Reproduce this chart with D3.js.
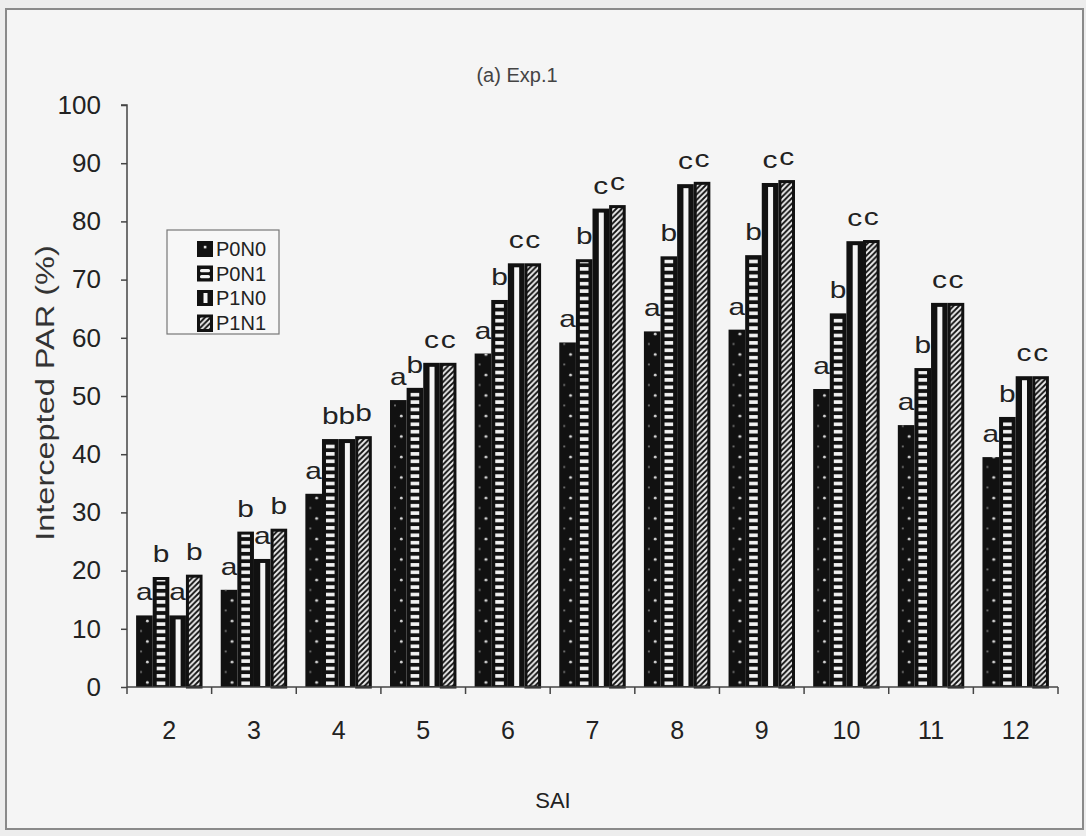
<!DOCTYPE html>
<html>
<head>
<meta charset="utf-8">
<script src="https://cdn.jsdelivr.net/npm/d3@7"></script>
<style>
  html, body { margin: 0; padding: 0; background: #ececec; }
  svg { display: block; }
  text { font-family: "Liberation Sans", Arial, sans-serif; fill: #222; }
</style>
</head>
<body>
<svg id="chart" width="1086" height="836"></svg>
<script>
// ---- data ----
const categories = ["2","3","4","5","6","7","8","9","10","11","12"];
const seriesNames = ["P0N0","P0N1","P1N0","P1N1"];
const P0N0 = [12.3, 16.7, 33.2, 49.3, 57.3, 59.2, 61.1, 61.4, 51.2, 45.0, 39.5];
const P0N1 = [18.9, 26.7, 42.6, 51.4, 66.5, 73.5, 74.0, 74.2, 64.2, 54.8, 46.4];
const P1N0 = [12.3, 22.0, 42.6, 55.7, 72.8, 82.2, 86.4, 86.6, 76.6, 66.0, 53.4];
const P1N1 = [19.3, 27.2, 43.1, 55.7, 72.8, 82.8, 86.8, 87.1, 76.8, 66.0, 53.4];
const lettersP0N0 = ["a","a","a","a","a","a","a","a","a","a","a"];
const lettersP0N1 = ["b","b","b","b","b","b","b","b","b","b","b"];
const lettersP1N0 = ["a","a","b","c","c","c","c","c","c","c","c"];
const lettersP1N1 = ["b","b","b","c","c","c","c","c","c","c","c"];
const yTicks = [0,10,20,30,40,50,60,70,80,90,100];
const titleText = "(a) Exp.1";
const xTitle = "SAI";
const yTitle = "Intercepted PAR (%)";

const seriesValues = { P0N0, P0N1, P1N0, P1N1 };
const seriesLetters = { P0N0: lettersP0N0, P0N1: lettersP0N1, P1N0: lettersP1N0, P1N1: lettersP1N1 };

const svg = d3.select("#chart");

// paper / frame
svg.append("rect").attr("x",0).attr("y",0).attr("width",1086).attr("height",836).attr("fill","#ededed");
svg.append("rect").attr("x",6).attr("y",9).attr("width",1077).attr("height",820)
   .attr("fill","#f5f5f5").attr("stroke","#8a8a8a").attr("stroke-width",2);

const plotLeft = 127, plotRight = 1058, plotTop = 105, plotBottom = 687;

const x0 = d3.scaleBand().domain(categories).range([plotLeft, plotRight]).paddingInner(0.215).paddingOuter(0.1075);
const x1 = d3.scaleBand().domain(seriesNames).range([0, x0.bandwidth()]).padding(0);
const y = d3.scaleLinear().domain([0,100]).range([plotBottom, plotTop]);
const step = x0.step();
const bw = x1.bandwidth();

// ---- patterns ----
const defs = svg.append("defs");
const dots = defs.append("pattern").attr("id","dots").attr("patternUnits","userSpaceOnUse")
  .attr("x", x0(categories[0]) + x1("P0N0")).attr("y", 0).attr("width", step).attr("height", 20.5);
dots.append("circle").attr("cx", bw*0.68).attr("cy", 6).attr("r", 1.4).attr("fill","#ddd");
dots.append("circle").attr("cx", bw*0.3).attr("cy", 16).attr("r", 1.0).attr("fill","#777");

const hstr = defs.append("pattern").attr("id","hstripes").attr("patternUnits","userSpaceOnUse")
  .attr("x",0).attr("y", plotBottom).attr("width", 10).attr("height", 7.4);
hstr.append("rect").attr("x",0).attr("y",1.9).attr("width",10).attr("height",3.6).attr("fill","#f2f2f2");

const diag = defs.append("pattern").attr("id","diag").attr("patternUnits","userSpaceOnUse")
  .attr("width", 5.5).attr("height", 5.5);
diag.append("rect").attr("width",5.5).attr("height",5.5).attr("fill","#eeeeee");
diag.append("path").attr("d","M-1,1 l2,-2 M0,5.5 l5.5,-5.5 M4.5,6.5 l2,-2")
  .attr("stroke","#111").attr("stroke-width",1.9);

function drawBar(g, s, bx, by, w, h, legend) {
  const black = "#111";
  if (s === "P0N0") {
    g.append("rect").attr("x",bx).attr("y",by).attr("width",w).attr("height",h).attr("fill",black);
    if (legend) {
      g.append("rect").attr("x",bx+w*0.5-1.2).attr("y",by+h*0.3).attr("width",2.6).attr("height",2.6).attr("fill","#ddd");
    } else {
      g.append("rect").attr("x",bx).attr("y",by).attr("width",w).attr("height",h).attr("fill","url(#dots)");
    }
  } else if (s === "P0N1") {
    g.append("rect").attr("x",bx).attr("y",by).attr("width",w).attr("height",h).attr("fill",black);
    if (legend) {
      g.append("rect").attr("x",bx+3).attr("y",by+3.5).attr("width",w-6).attr("height",3.2).attr("rx",1.5).attr("fill","#f2f2f2");
      g.append("rect").attr("x",bx+3).attr("y",by+9.5).attr("width",w-6).attr("height",3.2).attr("rx",1.5).attr("fill","#f2f2f2");
    } else if (h > 6) {
      g.append("rect").attr("x",bx+4).attr("y",by+3).attr("width",Math.max(0,w-8)).attr("height",h-4).attr("fill","url(#hstripes)");
    }
  } else if (s === "P1N0") {
    g.append("rect").attr("x",bx).attr("y",by).attr("width",w).attr("height",h).attr("fill",black);
    const sw = legend ? 4 : 5;
    if (h > 6) g.append("rect").attr("x",bx+w/2-sw/2+0.5).attr("y",by+(legend?3:4)).attr("width",sw).attr("height",h-(legend?6:5)).attr("fill","#f4f4f4");
  } else {
    g.append("rect").attr("x",bx+1.5).attr("y",by+1.5).attr("width",w-3).attr("height",h-1.5)
      .attr("fill","url(#diag)").attr("stroke",black).attr("stroke-width",3);
  }
}

// ---- bars ----
const plot = svg.append("g");
categories.forEach((c, i) => {
  seriesNames.forEach(s => {
    const v = seriesValues[s][i];
    const bx = x0(c) + x1(s);
    const by = y(v);
    drawBar(plot.append("g"), s, bx, by, bw, y(0) - by, false);
  });
});

// letters (slightly wide, as in the scanned original)
categories.forEach((c, i) => {
  seriesNames.forEach(s => {
    const v = seriesValues[s][i];
    svg.append("text")
      .attr("transform", `translate(${x0(c) + x1(s) + bw/2},${y(v) - 15}) scale(1.3,1)`)
      .attr("text-anchor","middle")
      .attr("font-size", 23)
      .text(seriesLetters[s][i]);
  });
});

// ---- axes ----
const axisColor = "#444";
const yAxis = svg.append("g").attr("transform", `translate(${plotLeft},0)`)
  .call(d3.axisLeft(y).tickValues(yTicks).tickSize(6).tickPadding(20).tickFormat(d3.format("d")));
yAxis.select(".domain").attr("stroke", axisColor).attr("stroke-width",1.5).attr("d", `M-6,${plotTop}H0V${plotBottom}`);
yAxis.selectAll(".tick line").attr("stroke", axisColor).attr("stroke-width",1.5);
yAxis.selectAll(".tick text").attr("font-size", 26).attr("fill","#222")
  .attr("font-family","Liberation Sans, Arial, sans-serif");

const xAxis = svg.append("g").attr("transform", `translate(0,${plotBottom})`)
  .call(d3.axisBottom(x0).tickSize(0).tickPadding(34));
xAxis.select(".domain").attr("stroke", axisColor).attr("stroke-width",1.5).attr("d", `M${plotLeft},0H${plotRight}`);
xAxis.selectAll(".tick text").attr("font-size", 25).attr("fill","#222")
  .attr("font-family","Liberation Sans, Arial, sans-serif");
// category separator ticks
const sepX = categories.map(c => x0(c) - step * x0.paddingInner() / 2).concat([plotRight]);
xAxis.selectAll("line.sep").data(sepX).enter().append("line")
  .attr("class","sep").attr("x1", d => d).attr("x2", d => d).attr("y1", 0).attr("y2", 7)
  .attr("stroke", axisColor).attr("stroke-width",1.5);

// ---- titles ----
svg.append("text").attr("x", 517).attr("y", 82).attr("text-anchor","middle")
  .attr("font-size", 20).style("fill","#444").text(titleText);
svg.append("text").attr("x", 553).attr("y", 808).attr("text-anchor","middle")
  .attr("font-size", 22).text(xTitle);
svg.append("text").attr("transform","translate(54,393) rotate(-90) scale(1.3,1)").attr("text-anchor","middle")
  .attr("font-size", 25).style("fill","#333").text(yTitle);

// ---- legend ----
const lg = svg.append("g");
lg.append("rect").attr("x",167).attr("y",230).attr("width",112).attr("height",104)
  .attr("fill","#f7f7f7").attr("stroke","#777").attr("stroke-width",1.2);
seriesNames.forEach((s, i) => {
  const cy = 249 + i * 24.5;
  drawBar(lg.append("g"), s, 197, cy - 8, 16, 16, true);
  lg.append("text").attr("x", 216).attr("y", cy + 7).attr("font-size", 20).text(s);
});
</script>
</body>
</html>
